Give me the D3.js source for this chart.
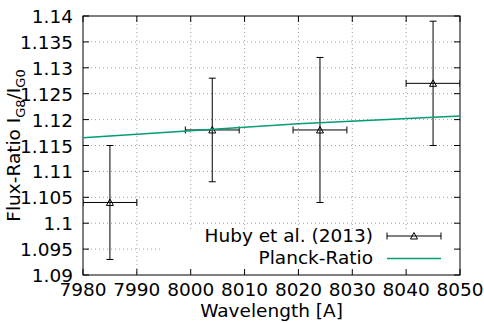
<!DOCTYPE html>
<html>
<head>
<meta charset="utf-8">
<script src="https://cdn.jsdelivr.net/npm/d3@7"></script>
<style>
  body { margin: 0; background: #fff; }
  text { font-family: "DejaVu Sans", sans-serif; fill: #000; }
</style>
</head>
<body>
<div id="chart"></div>
<script>
// Huby et al. (2013) points
const wavelength = [7985, 8004, 8024, 8045];
const wavelengthLow = [7980, 7999, 8019, 8040];
const wavelengthHigh = [7990, 8009, 8029, 8050];
const ratio = [1.104, 1.118, 1.118, 1.127];
const ratioLow = [1.093, 1.108, 1.104, 1.115];
const ratioHigh = [1.115, 1.128, 1.132, 1.139];

// Planck-Ratio curve
const planckWavelength = [7980, 8020, 8050];
const planckRatio = [1.1165, 1.1192, 1.1207];

const xTicks = [7980, 7990, 8000, 8010, 8020, 8030, 8040, 8050];
const yTicks = [1.09, 1.095, 1.1, 1.105, 1.11, 1.115, 1.12, 1.125, 1.13, 1.135, 1.14];

const W = 484, H = 323;
const margin = {top: 16, right: 24, bottom: 48, left: 83};
const width = W - margin.left - margin.right;
const height = H - margin.top - margin.bottom;
const fs = "18.5px";

const svg = d3.select("#chart").append("svg")
    .attr("width", W)
    .attr("height", H);

const g = svg.append("g")
    .attr("transform", "translate(" + margin.left + "," + margin.top + ")");

const x = d3.scaleLinear().domain([7980, 8050]).range([0, width]);
const y = d3.scaleLinear().domain([1.09, 1.14]).range([height, 0]);

g.append("defs").append("clipPath").attr("id", "clip")
    .append("rect").attr("width", width).attr("height", height);

// grid
const grid = g.append("g").attr("class", "grid");
grid.selectAll(".vg").data(xTicks.slice(1, -1)).enter().append("line")
    .attr("x1", d => x(d)).attr("x2", d => x(d))
    .attr("y1", 0).attr("y2", height)
    .attr("stroke", "#a0a0a0").attr("stroke-width", 1).attr("stroke-dasharray", "1,3");
grid.selectAll(".hg").data(yTicks.slice(1, -1)).enter().append("line")
    .attr("x1", 0).attr("x2", width)
    .attr("y1", d => y(d)).attr("y2", d => y(d))
    .attr("stroke", "#a0a0a0").attr("stroke-width", 1).attr("stroke-dasharray", "1,3");

// legend background covers grid
const legendTop = y(1.0985), legendLeft = x(7994.5);
g.append("rect")
    .attr("x", legendLeft).attr("y", legendTop)
    .attr("width", width - legendLeft - 1).attr("height", height - legendTop - 1)
    .attr("fill", "#fff");

// axes (ticks inward, mirrored)
const tickLen = 6;
const axG = g.append("g");
axG.selectAll(".xb").data(xTicks).enter().append("line")
    .attr("x1", d => x(d)).attr("x2", d => x(d))
    .attr("y1", height).attr("y2", height - tickLen).attr("stroke", "#000");
axG.selectAll(".xt").data(xTicks).enter().append("line")
    .attr("x1", d => x(d)).attr("x2", d => x(d))
    .attr("y1", 0).attr("y2", tickLen).attr("stroke", "#000");
axG.selectAll(".yl").data(yTicks).enter().append("line")
    .attr("x1", 0).attr("x2", tickLen)
    .attr("y1", d => y(d)).attr("y2", d => y(d)).attr("stroke", "#000");
axG.selectAll(".yr").data(yTicks).enter().append("line")
    .attr("x1", width).attr("x2", width - tickLen)
    .attr("y1", d => y(d)).attr("y2", d => y(d)).attr("stroke", "#000");

axG.selectAll(".xlab").data(xTicks).enter().append("text")
    .attr("x", d => x(d)).attr("y", height + 21)
    .attr("text-anchor", "middle")
    .style("font-size", fs)
    .text(d => d);
axG.selectAll(".ylab").data(yTicks).enter().append("text")
    .attr("x", -10).attr("y", d => y(d) + 7)
    .attr("text-anchor", "end")
    .style("font-size", fs)
    .text(d => d3.format("")(+d.toFixed(3)));

g.append("rect")
    .attr("width", width).attr("height", height)
    .attr("fill", "none").attr("stroke", "#000").attr("stroke-width", 1);

// axis titles
svg.append("text")
    .attr("x", margin.left + width / 2).attr("y", 317)
    .attr("text-anchor", "middle")
    .style("font-size", fs)
    .text("Wavelength [A]");

const yt = svg.append("text")
    .attr("transform", "translate(20," + (margin.top + height / 2) + ") rotate(-90)")
    .attr("text-anchor", "middle")
    .style("font-size", fs);
yt.append("tspan").text("Flux-Ratio I");
yt.append("tspan").attr("dy", 5).style("font-size", "13px").text("G8");
yt.append("tspan").attr("dy", -5).text("/I");
yt.append("tspan").attr("dy", 5).style("font-size", "13px").text("G0");

// error bars
const cap = 3.5;
function triangle(sel, cx, cy) {
    sel.append("path")
        .attr("d", `M${cx - 3.5},${cy + 3} L${cx + 3.5},${cy + 3} L${cx},${cy - 3.5} Z`)
        .attr("fill", "none").attr("stroke", "#000").attr("stroke-width", 1);
}
function errorBar(sel, xc, yc, xl, xh, yl, yh) {
    const s = sel.append("g").attr("stroke", "#000").attr("stroke-width", 1);
    s.append("line").attr("x1", xl).attr("x2", xh).attr("y1", yc).attr("y2", yc);
    s.append("line").attr("x1", xl).attr("x2", xl).attr("y1", yc - cap).attr("y2", yc + cap);
    s.append("line").attr("x1", xh).attr("x2", xh).attr("y1", yc - cap).attr("y2", yc + cap);
    if (yl !== null) {
        s.append("line").attr("x1", xc).attr("x2", xc).attr("y1", yl).attr("y2", yh);
        s.append("line").attr("x1", xc - cap).attr("x2", xc + cap).attr("y1", yl).attr("y2", yl);
        s.append("line").attr("x1", xc - cap).attr("x2", xc + cap).attr("y1", yh).attr("y2", yh);
    }
    triangle(sel, xc, yc);
}

const pts = g.append("g").attr("clip-path", "url(#clip)");
wavelength.forEach((w, i) => {
    errorBar(pts, x(w), y(ratio[i]), x(wavelengthLow[i]), x(wavelengthHigh[i]),
        y(ratioLow[i]), y(ratioHigh[i]));
});

// Planck line
const line = d3.line().x((d, i) => x(planckWavelength[i])).y(d => y(d));
pts.append("path")
    .datum(planckRatio)
    .attr("d", line)
    .attr("fill", "none")
    .attr("stroke", "#009e73")
    .attr("stroke-width", 1.5);

// legend
const leg = svg.append("g");
leg.append("text")
    .attr("x", 373).attr("y", 242)
    .attr("text-anchor", "end")
    .style("font-size", fs)
    .text("Huby et al. (2013)");
leg.append("text")
    .attr("x", 373).attr("y", 264)
    .attr("text-anchor", "end")
    .style("font-size", fs)
    .text("Planck-Ratio");
errorBar(leg, 414, 236, 387, 441, null, null);
leg.append("line")
    .attr("x1", 387).attr("x2", 441).attr("y1", 258.5).attr("y2", 258.5)
    .attr("stroke", "#009e73").attr("stroke-width", 1.5);
</script>
</body>
</html>
